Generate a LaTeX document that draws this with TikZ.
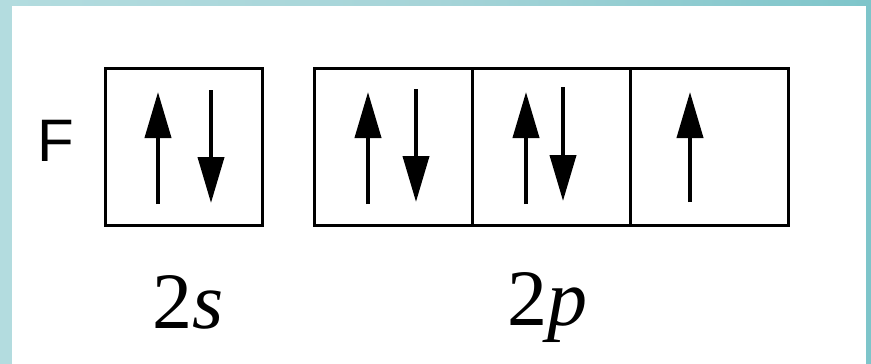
\documentclass[tikz,border=0pt]{standalone}
\usepackage{fontspec}
\setmainfont{Liberation Serif}
\newfontfamily\hvfont{Liberation Sans}
\usetikzlibrary{arrows.meta}
\definecolor{frameL}{HTML}{B3DCDF}
\definecolor{frameM}{HTML}{A6D4D8}
\definecolor{frameR}{HTML}{7EC5CA}
\tikzset{
  orb/.style={draw=black, line width=3pt, minimum width=158pt, minimum height=157pt, inner sep=0pt, outer sep=0pt},
  orbs/.style={orb, minimum width=157pt},
  spin/.style={line width=4pt, -{Triangle[length=46pt,width=26pt]}},
  lbl/.style={inner sep=0pt, anchor=base west, font=\fontsize{80}{90}\selectfont},
  elem/.style={inner sep=0pt, anchor=base west, font=\hvfont\fontsize{60}{70}\selectfont}
}
\begin{document}
\begin{tikzpicture}[x=1pt,y=-1pt]
\useasboundingbox (0,0) rectangle (871,364);
\shade[left color=frameL, right color=frameR, middle color=frameM] (0,0) rectangle (871,364);
\fill[white] (12,6) rectangle (866,364);
% 2s box
\node[orbs] (s) at (184,147) {};
% 2p boxes
\node[orb] (p1) at (393.5,147) {};
\node[orb] (p2) at (551.5,147) {};
\node[orb] (p3) at (709.5,147) {};
% spins
\coordinate (s1a) at (158,204); \coordinate (s1b) at (158,92);
\coordinate (s2a) at (211,90); \coordinate (s2b) at (211,203);
\draw[spin] (s1a) -- (s1b);
\draw[spin] (s2a) -- (s2b);
\coordinate (p1ua) at (368,204); \coordinate (p1ub) at (368,92);
\coordinate (p1da) at (416,89); \coordinate (p1db) at (416,202);
\draw[spin] (p1ua) -- (p1ub);
\draw[spin] (p1da) -- (p1db);
\coordinate (p2ua) at (526,204); \coordinate (p2ub) at (526,92);
\coordinate (p2da) at (563,87); \coordinate (p2db) at (563,201);
\draw[spin] (p2ua) -- (p2ub);
\draw[spin] (p2da) -- (p2db);
\coordinate (p3ua) at (690,202); \coordinate (p3ub) at (690,92);
\draw[spin] (p3ua) -- (p3ub);
% labels
\node[elem] (F) at (37,161.7) {F};
\node[lbl] (l2s) at (152.5,328) {2\textit{s}};
\node[lbl] (l2p) at (507.5,325) {2\textit{p}};
\end{tikzpicture}
\end{document}
